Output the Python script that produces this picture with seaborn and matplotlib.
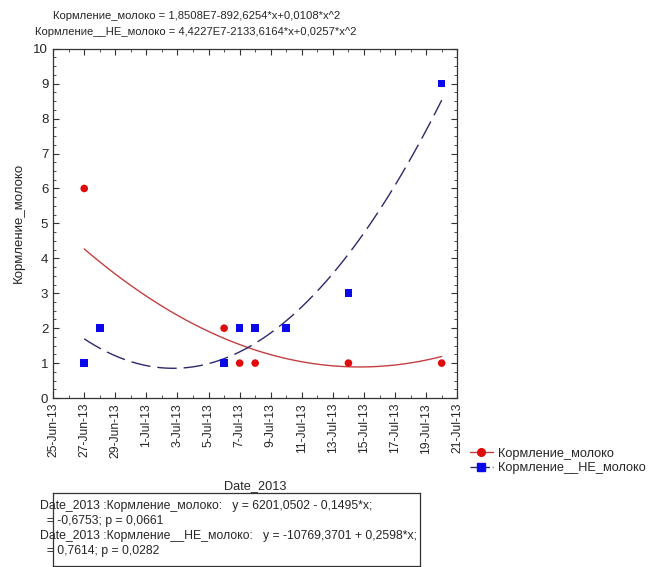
import numpy as np
import pandas as pd
import matplotlib
matplotlib.use("Agg")
import matplotlib.pyplot as plt
import matplotlib.dates as mdates
from matplotlib.ticker import MultipleLocator, FixedLocator, FuncFormatter
from matplotlib.lines import Line2D
import seaborn as sns

# -------------------------------------------------------------------
# data (two red points sit under blue squares)
# -------------------------------------------------------------------
dates = ["2013-06-27", "2013-06-28", "2013-07-06", "2013-07-07", "2013-07-08",
         "2013-07-10", "2013-07-14", "2013-07-20"]
milk_values = [6, 2, 2, 1, 1, 2, 1, 1]
no_milk_values = [1, 2, 1, 2, 2, 2, 3, 9]

milk_name = "Кормление_молоко"
no_milk_name = "Кормление__НЕ_молоко"

title_lines = ["Кормление_молоко = 1,8508E7-892,6254*x+0,0108*x^2",
               "Кормление__НЕ_молоко = 4,4227E7-2133,6164*x+0,0257*x^2"]

stats_lines = ["Date_2013 :Кормление_молоко:   y = 6201,0502 - 0,1495*x;",
               "  = -0,6753; p = 0,0661",
               "Date_2013 :Кормление__НЕ_молоко:   y = -10769,3701 + 0,2598*x;",
               "  = 0,7614; p = 0,0282"]

x_start, x_end = "2013-06-25", "2013-07-21"

date_num = mdates.date2num(pd.to_datetime(dates))
milk_df = pd.DataFrame({"date": date_num, "value": milk_values})
no_milk_df = pd.DataFrame({"date": date_num, "value": no_milk_values})

# -------------------------------------------------------------------
# plot
# -------------------------------------------------------------------
sns.set_style("ticks")
plt.rcParams["font.family"] = ["Liberation Sans", "DejaVu Sans"]
plt.rcParams["font.size"] = 9

fig = plt.figure(figsize=(6.56, 5.67), dpi=100)
ax = fig.add_axes([0.081, 0.298, 0.616, 0.616])

red = "#e00c0c"
blue = "#0808e8"
red_line = "#c44040"
blue_line = "#2a2a6e"

sns.regplot(data=milk_df, x="date", y="value", order=2, ci=None, ax=ax, marker="o",
            scatter_kws={"color": red, "s": 30, "edgecolor": "none", "alpha": 1, "zorder": 3},
            line_kws={"color": red_line, "lw": 1.0})
sns.regplot(data=no_milk_df, x="date", y="value", order=2, ci=None, ax=ax, marker="s",
            scatter_kws={"color": blue, "s": 30, "edgecolor": "none", "alpha": 1, "zorder": 3},
            line_kws={"color": blue_line, "lw": 1.0, "dashes": (14, 5)})

x0 = mdates.date2num(pd.Timestamp(x_start))
x1 = mdates.date2num(pd.Timestamp(x_end))
ax.set_xlim(x0, x1)
ax.set_ylim(0, 10)
ax.xaxis.set_major_locator(FixedLocator(np.arange(x0, x1 + 0.5, 2)))
ax.xaxis.set_minor_locator(FixedLocator(np.arange(x0, x1 + 0.5, 1)))
ax.xaxis.set_major_formatter(FuncFormatter(
    lambda v, pos: (lambda d: f"{d.day}-{d:%b-%y}")(mdates.num2date(v))))
ax.yaxis.set_major_locator(MultipleLocator(1))
ax.yaxis.set_minor_locator(MultipleLocator(0.25))
ax.tick_params(which="both", direction="in", top=True, right=True, color="#333333")
ax.tick_params(which="major", length=4, width=0.8, labelsize=9.5)
ax.tick_params(axis="x", labelsize=8.7, labelrotation=90)
ax.tick_params(which="minor", length=2, width=0.6)
for s in ax.spines.values():
    s.set_linewidth(0.9)
    s.set_color("#333333")

ax.set_xlabel("Date_2013", fontsize=9.2, labelpad=16)
ax.set_ylabel(milk_name, fontsize=9.5, labelpad=6)

fig.text(0.299, 0.972, title_lines[0], ha="center", va="center", fontsize=8.1)
fig.text(0.299, 0.944, title_lines[1], ha="center", va="center", fontsize=8.1)

handles = [Line2D([], [], color=red_line, marker="o", markerfacecolor=red, markeredgecolor=red,
                  markersize=5.5, lw=1.0),
           Line2D([], [], color=blue_line, marker="s", markerfacecolor=blue, markeredgecolor=blue,
                  markersize=5.5, lw=1.0, dashes=(6, 2))]
fig.legend(handles, [milk_name, no_milk_name], loc="upper left", bbox_to_anchor=(0.708, 0.219),
           frameon=False, fontsize=9.2, handlelength=1.8, handletextpad=0.4, labelspacing=0.2,
           borderaxespad=0)

# statistics box below the chart
box = fig.add_axes([0.081, 0.002, 0.56, 0.129])
box.set_xticks([])
box.set_yticks([])
for s in box.spines.values():
    s.set_linewidth(0.9)
    s.set_color("#333333")
for i, line in enumerate(stats_lines):
    fig.text(0.061, 0.107 - i * 0.0265, line, ha="left", va="center", fontsize=8.8)

fig.savefig("out.png", dpi=100)
